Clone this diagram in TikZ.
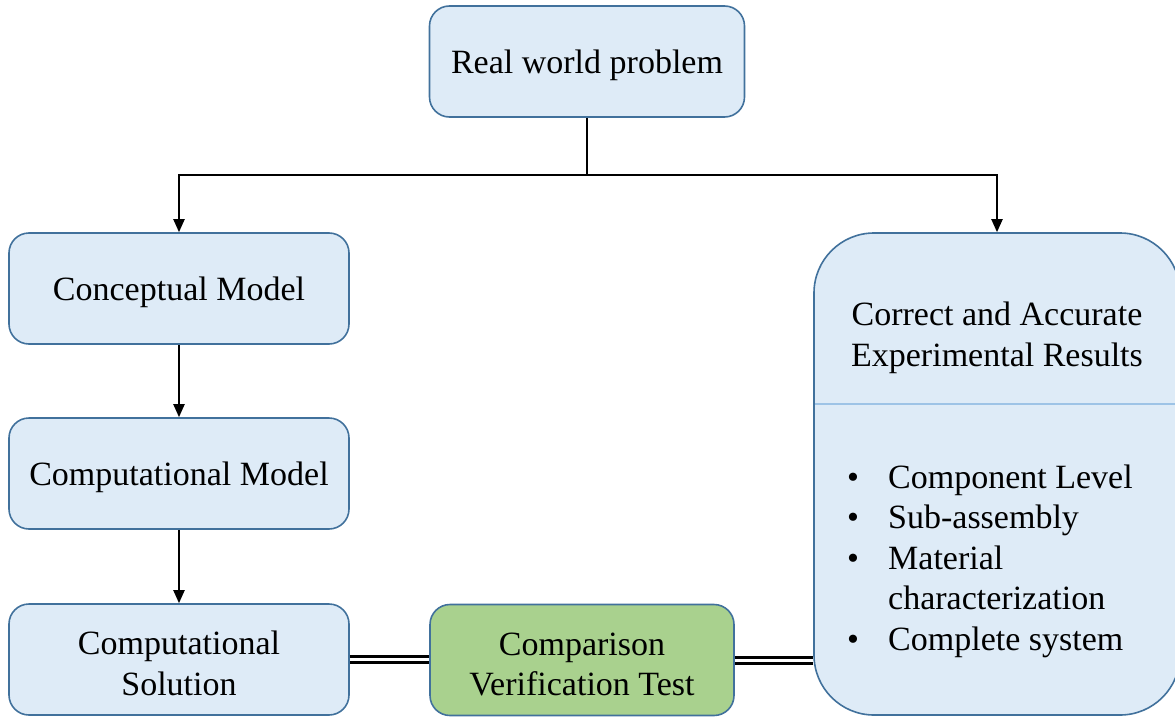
\documentclass[tikz,border=0pt]{standalone}
\usepackage{fontspec}
\setmainfont{Liberation Serif}
\usetikzlibrary{arrows.meta}
\definecolor{boxfill}{HTML}{DEEBF7}
\definecolor{boxline}{HTML}{41719C}
\definecolor{greenfill}{HTML}{A9D18E}
\definecolor{divline}{HTML}{9DC3E6}
\newcommand{\lowstrut}{\rule{0pt}{31pt}}
\begin{document}
\begin{tikzpicture}[x=1pt,y=-1pt,
  box/.style={draw=boxline, line width=1.6pt, fill=boxfill, rounded corners=20pt,
    minimum width=340pt, minimum height=111pt, align=center, inner sep=0pt,
    font=\fontsize{34}{40.5}\selectfont},
  txt/.style={inner sep=0pt, font=\fontsize{34}{40.5}\selectfont},
  arr/.style={line width=2pt, -{Triangle[width=11pt,length=13pt]}},
  dbl/.style={double=white, double distance=3pt, line width=3pt}]
\useasboundingbox (0,0) rectangle (1175,717);
\node[box, minimum width=315pt] (real) at (587,61.5) {\lowstrut Real world problem};
\node[box] (concept) at (179,288.5) {\lowstrut Conceptual Model};
\node[box] (cmodel) at (179,473.5) {\lowstrut Computational Model};
\node[box] (csol) at (179,659.5) {\lowstrut Computational\\Solution};
\node[box, fill=greenfill, minimum width=304pt] (comp) at (582,660) {\lowstrut Comparison\\Verification Test};
\node[box, rounded corners=60pt, minimum width=366pt, minimum height=482pt] (right) at (997,474) {};
\draw[divline, line width=2pt] (815,404) -- (1175,404);
\node[txt, align=center] (title) at (997,338) {Correct and Accurate\\Experimental Results};
\node[txt, anchor=base west] (b1) at (847,488) {\makebox[41pt][l]{\textbullet}Component Level};
\node[txt, anchor=base west] (b2) at (847,528.5) {\makebox[41pt][l]{\textbullet}Sub-assembly};
\node[txt, anchor=base west] (b3) at (847,569) {\makebox[41pt][l]{\textbullet}Material};
\node[txt, anchor=base west] (b3b) at (888,609.5) {characterization};
\node[txt, anchor=base west] (b4) at (847,650) {\makebox[41pt][l]{\textbullet}Complete system};
\coordinate (split) at (0,175);
\draw[line width=2pt] (real.south) -- (real.south |- split);
\draw[arr] (real.south |- split) -| (concept.north);
\draw[arr] (real.south |- split) -| (right.north);
\draw[arr] (concept.south) -- (cmodel.north);
\draw[arr] (cmodel.south) -- (csol.north);
\draw[dbl] (csol.east) -- (csol.east -| comp.west);
\draw[dbl] (comp.east) -- (comp.east -| right.west);
\end{tikzpicture}
\end{document}
